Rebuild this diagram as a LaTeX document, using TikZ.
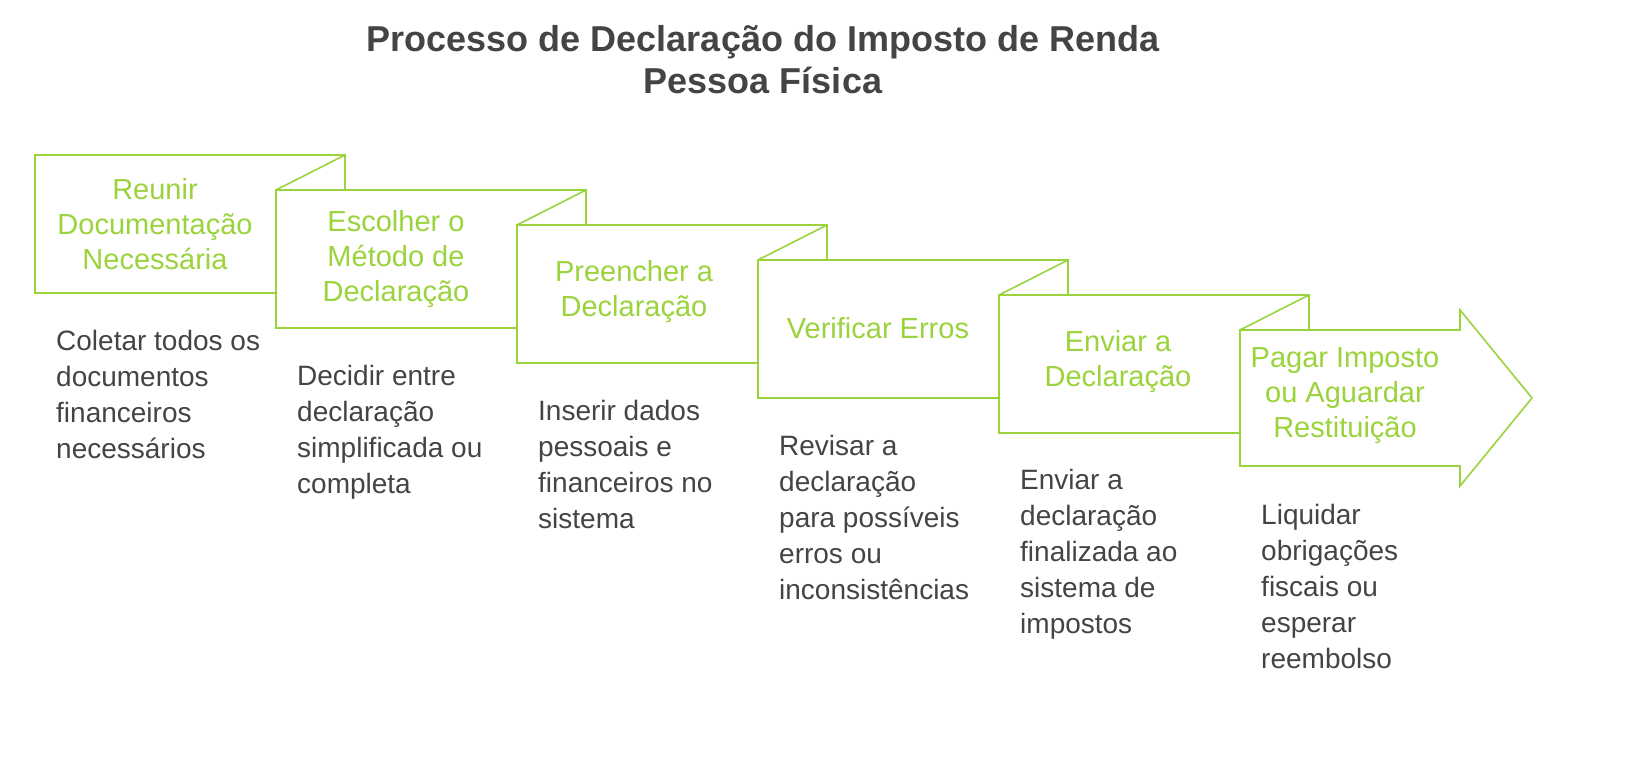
\documentclass[tikz,border=0pt]{standalone}
\usepackage{fontspec}
\setmainfont{Liberation Sans}
\definecolor{lg}{HTML}{9BD33C}
\definecolor{dg}{HTML}{444444}
\begin{document}
\begin{tikzpicture}[x=1pt,y=-1pt,
  box/.style={draw=lg,line width=1.6pt,fill=white},
  lab/.style={text=lg,font=\fontsize{29}{35}\selectfont,align=center},
  desc/.style={text=dg,font=\fontsize{28}{36}\selectfont,align=left,anchor=north west,inner sep=0}]
\useasboundingbox (0,0) rectangle (1640,776);
\node[text=dg,font=\bfseries\fontsize{36}{42}\selectfont,align=center] (title) at (763,60) {Processo de Declaração do Imposto de Renda\\Pessoa Física};
\foreach \i in {0,...,4}{
  \pgfmathsetmacro\xo{35+241*\i}
  \pgfmathsetmacro\yo{155+35*\i}
  \draw[box] (\xo,\yo) rectangle ++(310,138);
  \ifnum\i>0
    \draw[draw=lg,line width=1.6pt] (\xo,\yo) -- ++(69,-35);
  \fi
}
\draw[box] (1240,330) -- (1460,330) -- (1460,310) -- (1532,398) -- (1460,486) -- (1460,466) -- (1240,466) -- cycle;
\draw[draw=lg,line width=1.6pt] (1240,330) -- (1309,295);
\node[lab] (t1) at (155,224) {Reunir\\Documentação\\Necessária};
\node[lab] (t2) at (396,259) {Escolher o\\Método de\\Declaração};
\node[lab] (t3) at (634,292) {Preencher a\\Declaração};
\node[lab] (t4) at (878,328) {Verificar Erros};
\node[lab] (t5) at (1118,362) {Enviar a\\Declaração};
\node[lab] (t6) at (1345,396) {Pagar Imposto\\ou Aguardar\\Restituição};
\node[desc] (d1) at (56,330) {Coletar todos os\\documentos\\financeiros\\necessários};
\node[desc] (d2) at (297,365) {Decidir entre\\declaração\\simplificada ou\\completa};
\node[desc] (d3) at (538,400) {Inserir dados\\pessoais e\\financeiros no\\sistema};
\node[desc] (d4) at (779,435) {Revisar a\\declaração\\para possíveis\\erros ou\\inconsistências};
\node[desc] (d5) at (1020,469) {Enviar a\\declaração\\finalizada ao\\sistema de\\impostos};
\node[desc] (d6) at (1261,504) {Liquidar\\obrigações\\fiscais ou\\esperar\\reembolso};
\end{tikzpicture}
\end{document}
